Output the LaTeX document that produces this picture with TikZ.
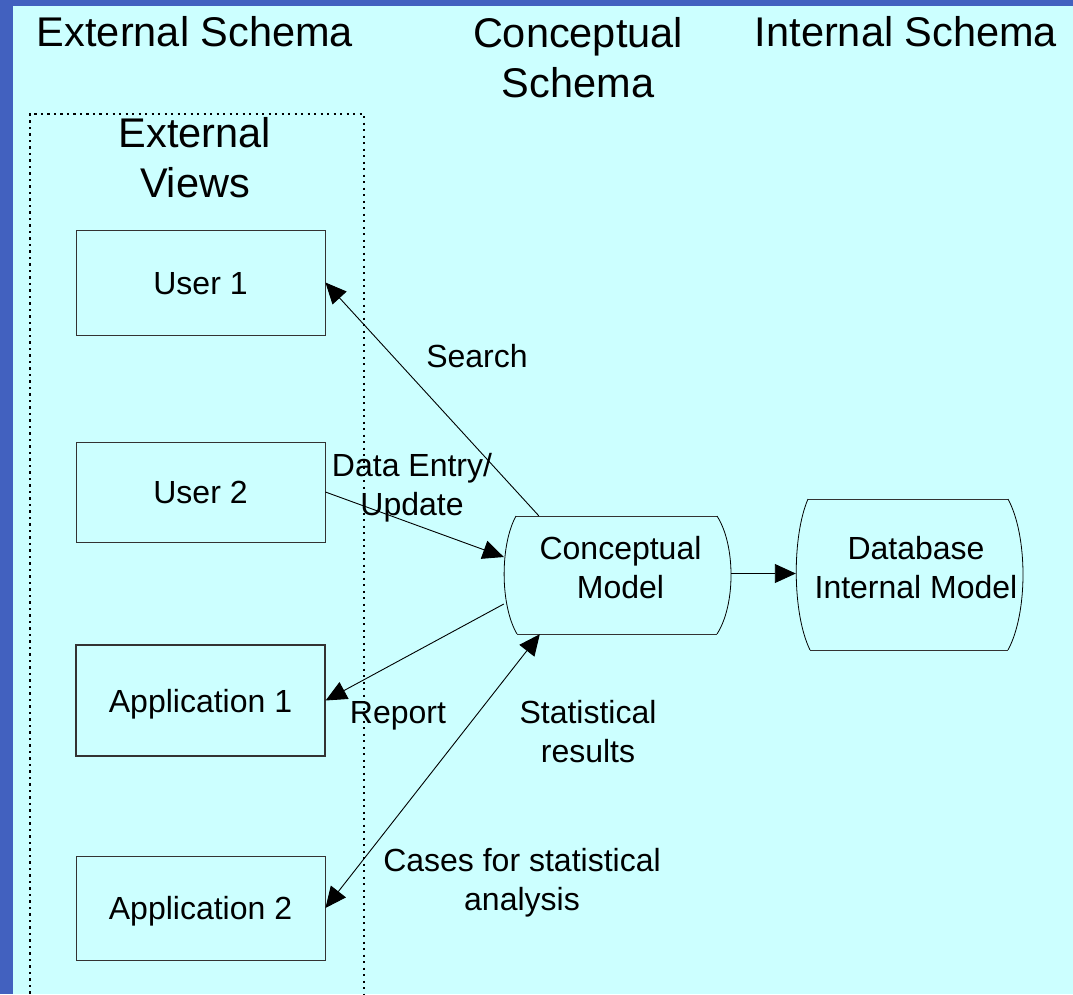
\documentclass[tikz,border=0pt]{standalone}
\usepackage{fontspec}
\setmainfont{Liberation Sans}
\usetikzlibrary{arrows.meta,calc}
\definecolor{slidebg}{HTML}{CCFFFF}
\definecolor{slideedge}{HTML}{4261BF}
\definecolor{boxline}{HTML}{333333}
\begin{document}
\begin{tikzpicture}[x=1pt,y=-1pt,
  heading/.style={font=\fontsize{41.5}{50}\selectfont, align=center, inner sep=0pt, anchor=base},
  lbl/.style={font=\fontsize{32}{38.5}\selectfont, align=center, inner sep=0pt, anchor=base},
  viewbox/.style={draw=boxline, line width=0.9pt, minimum width=249pt, inner sep=0pt,
    font=\fontsize{32}{38.5}\selectfont, text height=23pt, text depth=0pt},
  storeshape/.style={inner sep=0pt, draw=none},
  outline/.style={draw=black, line width=0.8pt},
  dotbox/.style={draw=black, line width=2.3pt, dash pattern=on 2.3pt off 4.2pt},
  link/.style={draw=black, line width=0.9pt, -{Triangle[length=21pt,width=19pt]}},
  dlink/.style={draw=black, line width=0.9pt, {Triangle[length=21pt,width=19pt]}-{Triangle[length=21pt,width=19pt]}}
]
% page and slide background
\clip (0,0) rectangle (1073,994);
\fill[slideedge] (0,0) rectangle (1073,994);
\fill[slidebg] (13,6) rectangle (1073,994);

% column headings (multi-line nodes sit on the baseline of their last line)
\node[heading] (hext) at (195,46) {External Schema};
\node[heading] (hcon) at (578,97) {Conceptual\\Schema};
\node[heading] (hint) at (906,46) {Internal Schema};

% group of external views
\draw[dotbox] (30,1000) |- (364,114) -- (364,1000);
\node[heading] (hviews) at (195,197) {External\\Views};

% external view boxes
\node[viewbox, minimum height=105pt] (u1) at (200.5,282.5) {User 1};
\node[viewbox, minimum height=100pt] (u2) at (200.5,492) {User 2};
\node[viewbox, minimum height=111pt, line width=1.2pt] (a1) at (200.5,700.5) {Application 1};
\node[viewbox, minimum height=104pt] (a2) at (200.5,908) {Application 2};

% conceptual model store
\node[storeshape, minimum width=227pt, minimum height=118pt] (cm) at (617.5,575) {};
\draw[outline, draw=boxline] (516,516) -- (717,516);
\draw[outline, draw=boxline] (517,634) -- (717,634);
\draw[outline] (516,516) .. controls (500,545) and (500,605) .. (517,634);
\draw[outline] (717,516) .. controls (735.7,545) and (735.7,605) .. (717,634);
\node[lbl] (cmtext) at (620.5,598) {Conceptual\\Model};

% database internal model store
\node[storeshape, minimum width=227pt, minimum height=151pt] (db) at (909.5,574.5) {};
\draw[outline, draw=boxline] (808,499) -- (1008,499);
\draw[outline, draw=boxline] (810,650) -- (1008,650);
\draw[outline] (808,499) .. controls (792,536) and (792,613) .. (810,650);
\draw[outline] (1008,499) .. controls (1028,536) and (1028,613) .. (1008,650);
\node[lbl] (dbtext) at (916,598) {Database\\Internal Model};

% data flows
\draw[link] ($(cm.north west)+(35,0)$) -- (u1.east);
\draw[link] (u2.east) -- ($(cm.west)+(0,-18)$);
\draw[link] ($(cm.west)+(0,29)$) -- (a1.east);
\draw[dlink] (a2.east) -- ($(cm.south west)+(36,0)$);
\draw[link] ($(cm.east)+(0,-1.5)$) -- ($(cm.east -| db.west)+(0,-1.5)$);

% flow labels
\node[lbl] (lsearch) at (477,367) {Search};
\node[lbl] (lentry) at (412,515) {Data Entry/\\Update};
\node[lbl] (lreport) at (398,723) {Report};
\node[lbl] (lstat) at (588,762) {Statistical\\results};
\node[lbl] (lcases) at (522,910) {Cases for statistical\\analysis};
\end{tikzpicture}
\end{document}
